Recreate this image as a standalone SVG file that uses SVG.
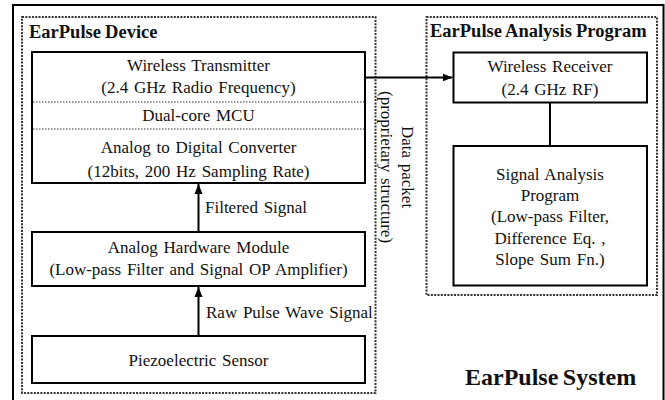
<svg xmlns="http://www.w3.org/2000/svg" width="665" height="400" viewBox="0 0 665 400">
<defs>
<marker id="arr" viewBox="0 0 10 10" refX="10" refY="5" markerWidth="10" markerHeight="10" markerUnits="userSpaceOnUse" orient="auto">
<path d="M0,1 L10,5 L0,9 Z" fill="#000"/>
</marker>
<style>
text{font-family:"Liberation Serif","Times New Roman",serif;fill:#111}
.t{font-size:17px;text-anchor:middle;word-spacing:1.5px}
.l{font-size:17px;word-spacing:1.5px}
.h{font-size:18.5px;font-weight:bold;word-spacing:-0.5px}
.box{fill:#fff;stroke:#000;stroke-width:2}
.grp{fill:none;stroke:#333;stroke-width:2;stroke-dasharray:2 1.3}
.div{stroke:#333;stroke-width:1.2;stroke-dasharray:1.5 1.5}
.con{stroke:#000;stroke-width:2;fill:none}
</style>
</defs>
<rect width="665" height="400" fill="#fff"/>
<rect x="13" y="5" width="650.5" height="400" fill="none" stroke="#000" stroke-width="2"/>
<g id="device">
<rect class="grp" x="22" y="17" width="353.5" height="376"/>
<text class="h" x="29" y="38">EarPulse Device</text>
</g>
<g id="analysis">
<rect class="grp" x="426.5" y="17" width="230.5" height="278"/>
<text class="h" x="430" y="37">EarPulse Analysis Program</text>
</g>
<g id="mcu">
<rect class="box" x="32" y="52" width="333" height="131"/>
<line class="div" x1="33" y1="102" x2="364" y2="102"/>
<line class="div" x1="33" y1="129" x2="364" y2="129"/>
<text class="t" x="198.5" y="71">Wireless Transmitter</text>
<text class="t" x="198.5" y="93">(2.4 GHz Radio Frequency)</text>
<text class="t" x="198.5" y="121">Dual-core MCU</text>
<text class="t" x="198.5" y="153">Analog to Digital Converter</text>
<text class="t" x="198.5" y="177">(12bits, 200 Hz Sampling Rate)</text>
</g>
<g id="analog">
<rect class="box" x="32" y="232" width="333" height="54"/>
<text class="t" x="198.5" y="253">Analog Hardware Module</text>
<text class="t" x="198.5" y="275">(Low-pass Filter and Signal OP Amplifier)</text>
</g>
<g id="sensor">
<rect class="box" x="32" y="336" width="333" height="47"/>
<text class="t" x="198.5" y="366">Piezoelectric Sensor</text>
</g>
<g id="receiver">
<rect class="box" x="453.5" y="52.5" width="193.5" height="50"/>
<text class="t" x="550" y="72">Wireless Receiver</text>
<text class="t" x="550" y="95">(2.4 GHz RF)</text>
</g>
<g id="sigprog">
<rect class="box" x="453.5" y="146" width="193.5" height="139.5"/>
<text class="t" x="550" y="180">Signal Analysis</text>
<text class="t" x="550" y="201">Program</text>
<text class="t" x="550" y="222">(Low-pass Filter,</text>
<text class="t" x="550" y="244">Difference Eq. ,</text>
<text class="t" x="550" y="265">Slope Sum Fn.)</text>
</g>
<g id="connectors">
<line class="con" x1="198.5" y1="232" x2="198.5" y2="184" marker-end="url(#arr)"/>
<text class="l" x="205" y="213">Filtered Signal</text>
<line class="con" x1="198.5" y1="336" x2="198.5" y2="287" marker-end="url(#arr)"/>
<text class="l" x="206" y="318">Raw Pulse Wave Signal</text>
<line class="con" x1="365" y1="77.5" x2="452.5" y2="77.5" marker-end="url(#arr)"/>
<line class="con" x1="550" y1="102.5" x2="550" y2="146"/>
<text class="t" transform="translate(402,167) rotate(90)">Data packet</text>
<text class="t" transform="translate(381,167) rotate(90)">(proprietary structure)</text>
</g>
<text x="465" y="385" style="font-size:24px;font-weight:bold;word-spacing:-1.5px">EarPulse System</text>
</svg>
